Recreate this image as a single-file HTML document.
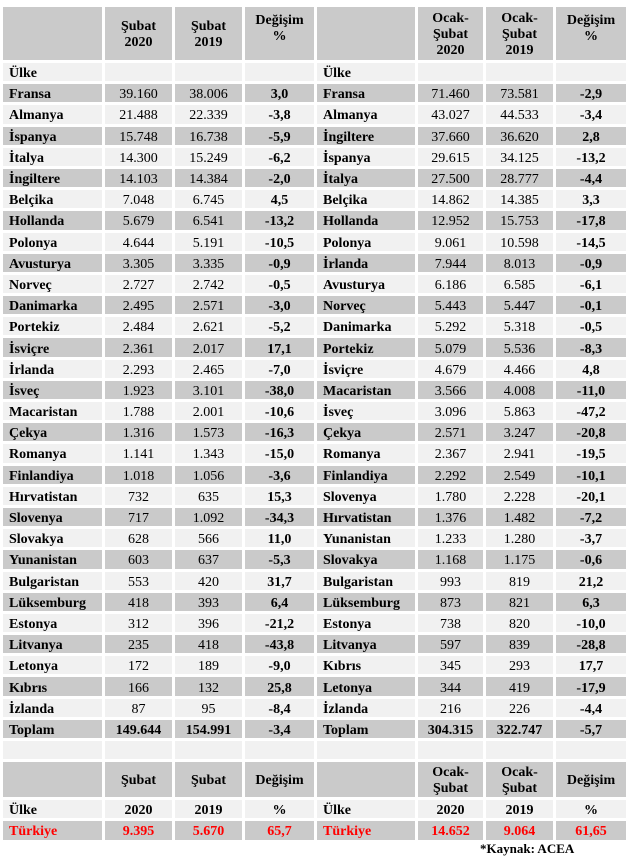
<!DOCTYPE html>
<html><head><meta charset="utf-8"><style>
html,body{margin:0;padding:0;background:#fff;width:633px;height:858px;overflow:hidden}
table{position:absolute;left:0;top:4px;border-collapse:separate;border-spacing:3px;font-family:"Liberation Serif",serif;font-size:14px;color:#000;table-layout:fixed}
td{padding:3px 0 0 0;text-align:center;line-height:15px;white-space:nowrap;overflow:hidden}
td.n{text-align:left;padding-left:6px;font-weight:bold}
td.b{font-weight:bold}
tr{height:18.2px}
tr.g td{background:#cacaca}
tr.l td{background:#f1f1f1}
tr.h td{background:#cacaca;font-weight:bold;line-height:16px}
tr.r td{color:#f00;font-weight:bold}
.src{position:absolute;left:480px;top:841px;font-family:"Liberation Serif",serif;font-size:13px;font-weight:bold}
</style></head><body>
<table>
<colgroup><col style="width:99px"><col style="width:67px"><col style="width:67px"><col style="width:69px"><col style="width:98px"><col style="width:65px"><col style="width:67px"><col style="width:70px"></colgroup>
<tr class="h" style="height:53px"><td></td><td>Şubat<br>2020</td><td>Şubat<br>2019</td><td style="vertical-align:top;padding-top:6px">Değişim<br>%</td><td></td><td>Ocak-<br>Şubat<br>2020</td><td>Ocak-<br>Şubat<br>2019</td><td style="vertical-align:top;padding-top:6px">Değişim<br>%</td></tr>
<tr class="l"><td class="n">Ülke</td><td></td><td></td><td></td><td class="n">Ülke</td><td></td><td></td><td></td></tr>
<tr class="g"><td class="n">Fransa</td><td>39.160</td><td>38.006</td><td class="b">3,0</td><td class="n">Fransa</td><td>71.460</td><td>73.581</td><td class="b">-2,9</td></tr>
<tr class="l"><td class="n">Almanya</td><td>21.488</td><td>22.339</td><td class="b">-3,8</td><td class="n">Almanya</td><td>43.027</td><td>44.533</td><td class="b">-3,4</td></tr>
<tr class="g"><td class="n">İspanya</td><td>15.748</td><td>16.738</td><td class="b">-5,9</td><td class="n">İngiltere</td><td>37.660</td><td>36.620</td><td class="b">2,8</td></tr>
<tr class="l"><td class="n">İtalya</td><td>14.300</td><td>15.249</td><td class="b">-6,2</td><td class="n">İspanya</td><td>29.615</td><td>34.125</td><td class="b">-13,2</td></tr>
<tr class="g"><td class="n">İngiltere</td><td>14.103</td><td>14.384</td><td class="b">-2,0</td><td class="n">İtalya</td><td>27.500</td><td>28.777</td><td class="b">-4,4</td></tr>
<tr class="l"><td class="n">Belçika</td><td>7.048</td><td>6.745</td><td class="b">4,5</td><td class="n">Belçika</td><td>14.862</td><td>14.385</td><td class="b">3,3</td></tr>
<tr class="g"><td class="n">Hollanda</td><td>5.679</td><td>6.541</td><td class="b">-13,2</td><td class="n">Hollanda</td><td>12.952</td><td>15.753</td><td class="b">-17,8</td></tr>
<tr class="l"><td class="n">Polonya</td><td>4.644</td><td>5.191</td><td class="b">-10,5</td><td class="n">Polonya</td><td>9.061</td><td>10.598</td><td class="b">-14,5</td></tr>
<tr class="g"><td class="n">Avusturya</td><td>3.305</td><td>3.335</td><td class="b">-0,9</td><td class="n">İrlanda</td><td>7.944</td><td>8.013</td><td class="b">-0,9</td></tr>
<tr class="l"><td class="n">Norveç</td><td>2.727</td><td>2.742</td><td class="b">-0,5</td><td class="n">Avusturya</td><td>6.186</td><td>6.585</td><td class="b">-6,1</td></tr>
<tr class="g"><td class="n">Danimarka</td><td>2.495</td><td>2.571</td><td class="b">-3,0</td><td class="n">Norveç</td><td>5.443</td><td>5.447</td><td class="b">-0,1</td></tr>
<tr class="l"><td class="n">Portekiz</td><td>2.484</td><td>2.621</td><td class="b">-5,2</td><td class="n">Danimarka</td><td>5.292</td><td>5.318</td><td class="b">-0,5</td></tr>
<tr class="g"><td class="n">İsviçre</td><td>2.361</td><td>2.017</td><td class="b">17,1</td><td class="n">Portekiz</td><td>5.079</td><td>5.536</td><td class="b">-8,3</td></tr>
<tr class="l"><td class="n">İrlanda</td><td>2.293</td><td>2.465</td><td class="b">-7,0</td><td class="n">İsviçre</td><td>4.679</td><td>4.466</td><td class="b">4,8</td></tr>
<tr class="g"><td class="n">İsveç</td><td>1.923</td><td>3.101</td><td class="b">-38,0</td><td class="n">Macaristan</td><td>3.566</td><td>4.008</td><td class="b">-11,0</td></tr>
<tr class="l"><td class="n">Macaristan</td><td>1.788</td><td>2.001</td><td class="b">-10,6</td><td class="n">İsveç</td><td>3.096</td><td>5.863</td><td class="b">-47,2</td></tr>
<tr class="g"><td class="n">Çekya</td><td>1.316</td><td>1.573</td><td class="b">-16,3</td><td class="n">Çekya</td><td>2.571</td><td>3.247</td><td class="b">-20,8</td></tr>
<tr class="l"><td class="n">Romanya</td><td>1.141</td><td>1.343</td><td class="b">-15,0</td><td class="n">Romanya</td><td>2.367</td><td>2.941</td><td class="b">-19,5</td></tr>
<tr class="g"><td class="n">Finlandiya</td><td>1.018</td><td>1.056</td><td class="b">-3,6</td><td class="n">Finlandiya</td><td>2.292</td><td>2.549</td><td class="b">-10,1</td></tr>
<tr class="l"><td class="n">Hırvatistan</td><td>732</td><td>635</td><td class="b">15,3</td><td class="n">Slovenya</td><td>1.780</td><td>2.228</td><td class="b">-20,1</td></tr>
<tr class="g"><td class="n">Slovenya</td><td>717</td><td>1.092</td><td class="b">-34,3</td><td class="n">Hırvatistan</td><td>1.376</td><td>1.482</td><td class="b">-7,2</td></tr>
<tr class="l"><td class="n">Slovakya</td><td>628</td><td>566</td><td class="b">11,0</td><td class="n">Yunanistan</td><td>1.233</td><td>1.280</td><td class="b">-3,7</td></tr>
<tr class="g"><td class="n">Yunanistan</td><td>603</td><td>637</td><td class="b">-5,3</td><td class="n">Slovakya</td><td>1.168</td><td>1.175</td><td class="b">-0,6</td></tr>
<tr class="l"><td class="n">Bulgaristan</td><td>553</td><td>420</td><td class="b">31,7</td><td class="n">Bulgaristan</td><td>993</td><td>819</td><td class="b">21,2</td></tr>
<tr class="g"><td class="n">Lüksemburg</td><td>418</td><td>393</td><td class="b">6,4</td><td class="n">Lüksemburg</td><td>873</td><td>821</td><td class="b">6,3</td></tr>
<tr class="l"><td class="n">Estonya</td><td>312</td><td>396</td><td class="b">-21,2</td><td class="n">Estonya</td><td>738</td><td>820</td><td class="b">-10,0</td></tr>
<tr class="g"><td class="n">Litvanya</td><td>235</td><td>418</td><td class="b">-43,8</td><td class="n">Litvanya</td><td>597</td><td>839</td><td class="b">-28,8</td></tr>
<tr class="l"><td class="n">Letonya</td><td>172</td><td>189</td><td class="b">-9,0</td><td class="n">Kıbrıs</td><td>345</td><td>293</td><td class="b">17,7</td></tr>
<tr class="g"><td class="n">Kıbrıs</td><td>166</td><td>132</td><td class="b">25,8</td><td class="n">Letonya</td><td>344</td><td>419</td><td class="b">-17,9</td></tr>
<tr class="l"><td class="n">İzlanda</td><td>87</td><td>95</td><td class="b">-8,4</td><td class="n">İzlanda</td><td>216</td><td>226</td><td class="b">-4,4</td></tr>
<tr class="g"><td class="n">Toplam</td><td class="b">149.644</td><td class="b">154.991</td><td class="b">-3,4</td><td class="n">Toplam</td><td class="b">304.315</td><td class="b">322.747</td><td class="b">-5,7</td></tr>
<tr class="l"><td></td><td></td><td></td><td></td><td></td><td></td><td></td><td></td></tr>
<tr class="h" style="height:33px"><td>&nbsp;</td><td>Şubat</td><td>Şubat</td><td>Değişim</td><td></td><td>Ocak-<br>Şubat</td><td>Ocak-<br>Şubat</td><td>Değişim</td></tr>
<tr class="l"><td class="n">Ülke</td><td class="b">2020</td><td class="b">2019</td><td class="b">%</td><td class="n">Ülke</td><td class="b">2020</td><td class="b">2019</td><td class="b">%</td></tr>
<tr class="g r"><td class="n">Türkiye</td><td>9.395</td><td>5.670</td><td>65,7</td><td class="n">Türkiye</td><td>14.652</td><td>9.064</td><td>61,65</td></tr>
</table>
<div class="src">*Kaynak: ACEA</div>
</body></html>
